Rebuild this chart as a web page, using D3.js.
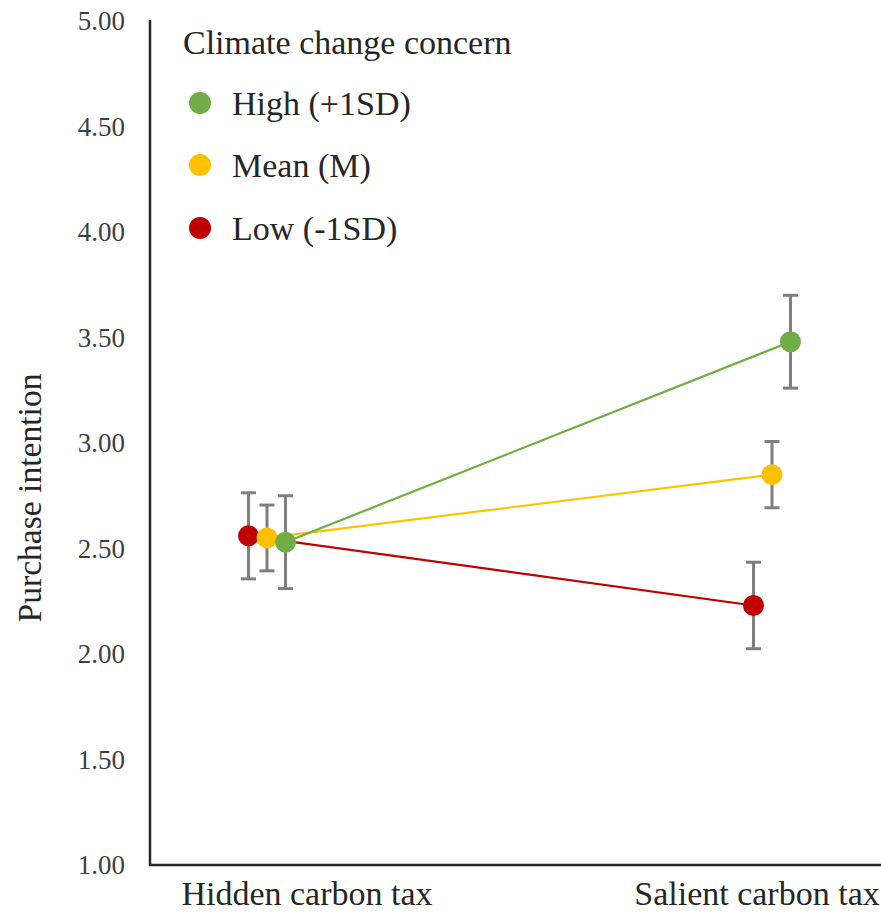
<!DOCTYPE html>
<html>
<head>
<meta charset="utf-8">
<script src="https://cdn.jsdelivr.net/npm/d3@7"></script>
<style>
  body { margin: 0; background: #fff; }
  svg text { font-family: "Liberation Serif", "Times New Roman", serif; fill: #262626; }
</style>
</head>
<body>
<div id="chart"></div>
<script>
// categories and series
var categories = ["Hidden carbon tax", "Salient carbon tax"];
var seriesNames = ["High (+1SD)", "Mean (M)", "Low (-1SD)"];
var highValues = [2.53, 3.48];
var meanValues = [2.55, 2.85];
var lowValues = [2.56, 2.23];
// half-width of error bars
var highErr = [0.22, 0.22];
var meanErr = [0.156, 0.157];
var lowErr = [0.204, 0.205];
var yTicks = [1.00, 1.50, 2.00, 2.50, 3.00, 3.50, 4.00, 4.50, 5.00];

var colors = { high: "#70ad47", mean: "#ffc000", low: "#c00000" };
var dodge = { high: 1, mean: 0, low: -1 };

var series = [
  { key: "high", name: seriesNames[0], values: highValues, err: highErr },
  { key: "mean", name: seriesNames[1], values: meanValues, err: meanErr },
  { key: "low", name: seriesNames[2], values: lowValues, err: lowErr }
];

var width = 881, height = 913;
var svg = d3.select("#chart").append("svg")
  .attr("width", width).attr("height", height);

var y = d3.scaleLinear().domain([1, 5]).range([865, 21]);
var x = d3.scalePoint().domain(categories).range([267, 772]);
var xLabel = d3.scalePoint().domain(categories).range([307, 757]);
var step = 18.5;

function px(s, i) { return x(categories[i]) + dodge[s.key] * step; }

/// y axis: no ticks, only labels
var yAxis = d3.axisLeft(y).tickValues(yTicks).tickFormat(d3.format(".2f")).tickSize(0).tickPadding(25);
var gy = svg.append("g").attr("transform", "translate(150,0)").call(yAxis);
gy.select(".domain").remove();
gy.attr("font-family", null);
gy.selectAll("text").attr("font-size", 27).style("fill", "#404040");

svg.append("line").attr("x1", 150).attr("x2", 150).attr("y1", 20).attr("y2", 866)
  .attr("stroke", "#262626").attr("stroke-width", 2.5);
svg.append("line").attr("x1", 149).attr("x2", 881).attr("y1", 865).attr("y2", 865)
  .attr("stroke", "#262626").attr("stroke-width", 2.5);

/// category labels
svg.selectAll(".catLabel").data(categories).enter().append("text")
  .attr("class", "catLabel")
  .attr("x", function (d) { return xLabel(d); })
  .attr("y", 905)
  .attr("text-anchor", "middle")
  .attr("font-size", 34)
  .text(function (d) { return d; });

/// y title
svg.append("text")
  .attr("transform", "translate(41,498)rotate(-90)")
  .attr("text-anchor", "middle")
  .attr("font-size", 33.6)
  .text("Purchase intention");

/// lines, low drawn first
var lineOrder = series.slice().reverse();
lineOrder.forEach(function (s) {
  svg.append("line")
    .attr("x1", px(s, 0)).attr("y1", y(s.values[0]))
    .attr("x2", px(s, 1)).attr("y2", y(s.values[1]))
    .attr("stroke", colors[s.key]).attr("stroke-width", 2.2);
});

/// error bars
lineOrder.forEach(function (s) {
  s.values.forEach(function (v, i) {
    var cx = px(s, i);
    var g = svg.append("g").attr("stroke", "#7f7f7f").attr("stroke-width", 3);
    g.append("line").attr("x1", cx).attr("x2", cx)
      .attr("y1", y(v - s.err[i])).attr("y2", y(v + s.err[i]));
    [v - s.err[i], v + s.err[i]].forEach(function (e) {
      g.append("line").attr("x1", cx - 7.5).attr("x2", cx + 7.5)
        .attr("y1", y(e)).attr("y2", y(e));
    });
  });
});

/// points: low first so high ends on top at hidden
lineOrder.forEach(function (s) {
  s.values.forEach(function (v, i) {
    svg.append("circle")
      .attr("cx", px(s, i)).attr("cy", y(v)).attr("r", 10.5)
      .attr("fill", colors[s.key]);
  });
});

/// legend
svg.append("text").attr("x", 183).attr("y", 54).attr("font-size", 34)
  .text("Climate change concern");
var legendY = [103, 165, 228];
series.forEach(function (s, i) {
  svg.append("circle").attr("cx", 200).attr("cy", legendY[i]).attr("r", 11)
    .attr("fill", colors[s.key]);
  svg.append("text").attr("x", 232).attr("y", legendY[i] + 12)
    .attr("font-size", 34).text(s.name);
});
</script>
</body>
</html>
